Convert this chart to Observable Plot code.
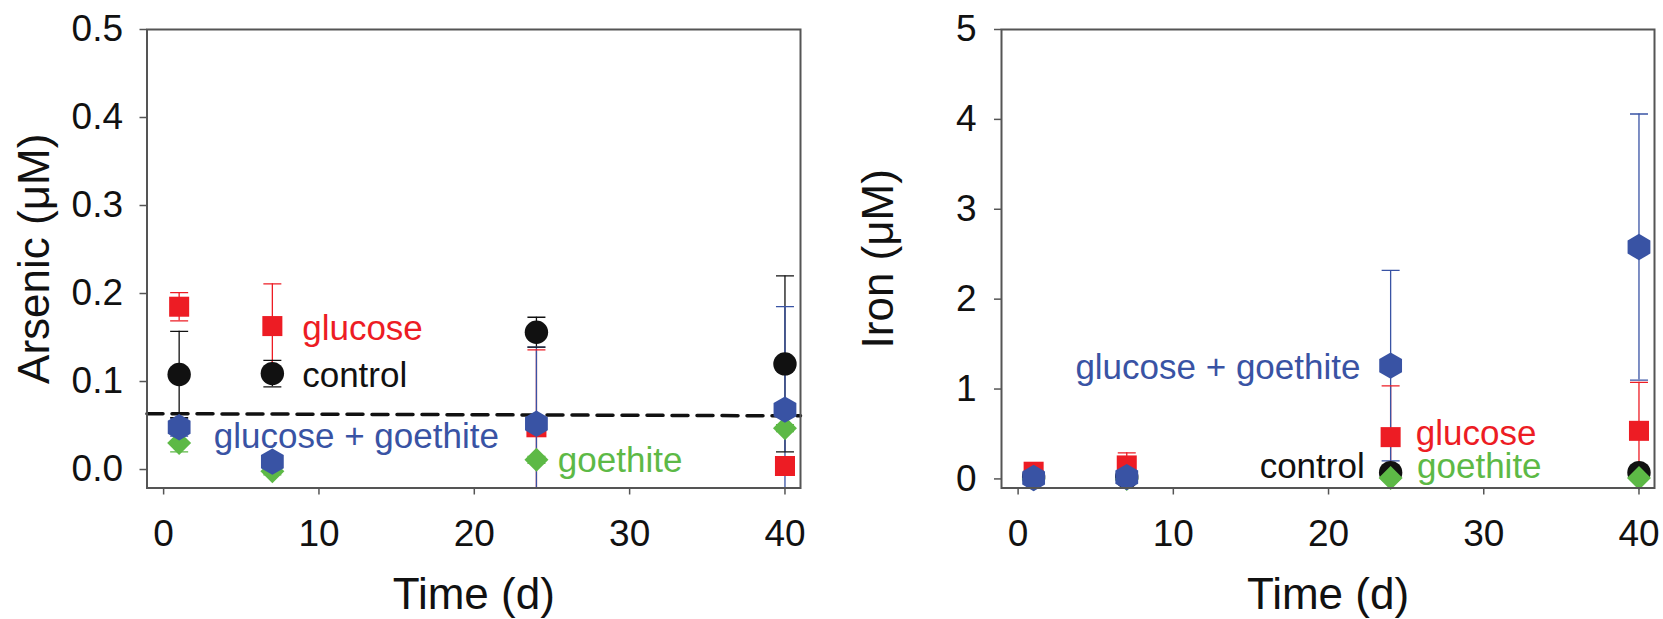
<!DOCTYPE html>
<html><head><meta charset="utf-8">
<script src="https://cdn.jsdelivr.net/npm/d3@7"></script>
<script src="https://cdn.jsdelivr.net/npm/@observablehq/plot@0.6"></script>
<style>
body{margin:0;background:#fff;}
#wrap{position:relative;width:1663px;height:619px;overflow:hidden;}
#left,#right{position:absolute;top:0;}
#left{left:0;} #right{left:840px;}
svg{overflow:visible}
</style></head><body>
<div id="wrap"><div id="left"></div><div id="right"></div></div>
<script>
// ---- data ----
const days = [1, 7, 24, 40];
const seriesNames = ["control", "glucose", "goethite", "glucose + goethite"];
const seriesColors = ["#111111", "#ED1C24", "#5DB946", "#3953A4"];
const seriesSymbols = ["circle", "square", "diamond2", "hexagon"];

// Arsenic (µM)
const arsenicControl = [0.108, 0.109, 0.156, 0.120];
const arsenicControlErr = [0.049, 0.015, 0.017, 0.100];
const arsenicGlucose = [0.185, 0.163, 0.048, 0.004];
const arsenicGlucoseErr = [0.016, 0.048, 0.088, 0.004];
const arsenicGoethite = [0.030, -0.002, 0.011, 0.047];
const arsenicGoethiteErr = [0.010, 0.004, 0.004, 0.004];
const arsenicGG = [0.048, 0.009, 0.052, 0.068];
const arsenicGGErr = [0.010, 0.005, 0.087, 0.117];
const arsenicLimit = [{day: -1.07, value: 0.0635}, {day: 41.0, value: 0.061}];

// Iron (µM)
const ironControl = [0.02, 0.02, 0.07, 0.07];
const ironControlErr = [0.01, 0.01, 0.02, 0.02];
const ironGlucose = [0.08, 0.15, 0.465, 0.535];
const ironGlucoseErr = [0.03, 0.14, 0.57, 0.54];
const ironGoethite = [0.0, 0.0, 0.01, 0.01];
const ironGoethiteErr = [0.01, 0.01, 0.01, 0.01];
const ironGG = [0.01, 0.02, 1.26, 2.58];
const ironGGErr = [0.02, 0.02, 1.06, 1.48];

const arsenicTicks = [0, 0.1, 0.2, 0.3, 0.4, 0.5];
const ironTicks = [0, 1, 2, 3, 4, 5];
const dayTicks = [0, 10, 20, 30, 40];

const arsenicLabels = [
  {text: "glucose", series: "glucose", day: 8.92, value: 0.160, anchor: "start"},
  {text: "control", series: "control", day: 8.92, value: 0.106, anchor: "start"},
  {text: "glucose + goethite", series: "glucose + goethite", day: 3.23, value: 0.0377, anchor: "start"},
  {text: "goethite", series: "goethite", day: 25.38, value: 0.0102, anchor: "start"}
];
const ironLabels = [
  {text: "glucose + goethite", series: "glucose + goethite", day: 3.69, value: 1.24, anchor: "start"},
  {text: "glucose", series: "glucose", day: 25.62, value: 0.50, anchor: "start"},
  {text: "goethite", series: "goethite", day: 25.7, value: 0.131, anchor: "start"},
  {text: "control", series: "control", day: 22.33, value: 0.131, anchor: "end"}
];

// ---- build rows ----
function rows(vals, errs) {
  const out = [];
  seriesNames.forEach((s, i) => days.forEach((d, j) => out.push({series: s, day: d, value: vals[i][j], err: errs[i][j]})));
  return out;
}
const arsenicRows = rows([arsenicControl, arsenicGlucose, arsenicGoethite, arsenicGG],
                         [arsenicControlErr, arsenicGlucoseErr, arsenicGoethiteErr, arsenicGGErr]);
const ironRows = rows([ironControl, ironGlucose, ironGoethite, ironGG],
                      [ironControlErr, ironGlucoseErr, ironGoethiteErr, ironGGErr]);

const FONT = "'Liberation Sans', Arial, Helvetica, sans-serif";
const colorOf = s => seriesColors[seriesNames.indexOf(s)];
const capSymbol = {draw(ctx) { ctx.moveTo(-9, 0); ctx.lineTo(9, 0); }};
const sizes = {"circle": 11.7, "square": 11.3, "diamond2": 10.8, "hexagon": 11.4};

function panel({data, yDomain, yTicks, yFormat, yLabel, labels, limit, width, marginLeft, marginRight, tickPadY, titleX}) {
  const marks = [];
  if (limit) marks.push(Plot.line(limit, {x: "day", y: "value", stroke: "#111", strokeWidth: 3.5, strokeDasharray: "16,9"}));
  // error bars
  marks.push(Plot.ruleX(data, {x: "day", y1: d => d.value - d.err, y2: d => d.value + d.err,
    stroke: d => colorOf(d.series), strokeWidth: 1.3, clip: true}));
  marks.push(Plot.dot(data, {x: "day", y: d => d.value + d.err, symbol: capSymbol, r: 5,
    fill: "none", stroke: d => colorOf(d.series), strokeWidth: 1.3, clip: true}));
  marks.push(Plot.dot(data, {x: "day", y: d => d.value - d.err, symbol: capSymbol, r: 5,
    fill: "none", stroke: d => colorOf(d.series), strokeWidth: 1.3, clip: true}));
  // markers
  seriesNames.forEach((s, i) => {
    marks.push(Plot.dot(data.filter(d => d.series === s), {x: "day", y: "value",
      symbol: seriesSymbols[i], r: sizes[seriesSymbols[i]], fill: seriesColors[i], stroke: "none"}));
  });
  // labels
  for (const anchor of ["start", "end"]) {
    marks.push(Plot.text(labels.filter(d => d.anchor === anchor), {x: "day", y: "value", text: "text",
      fill: d => colorOf(d.series), textAnchor: anchor, lineAnchor: "middle", fontSize: 35, fontFamily: FONT}));
  }
  marks.push(Plot.frame({stroke: "#555", strokeWidth: 2}));
  marks.push(Plot.axisY({ticks: yTicks, tickFormat: yFormat, tickSize: 7, tickPadding: tickPadY,
    fontSize: 37, stroke: "#555", strokeWidth: 1.5, fill: "#111", label: null}));
  marks.push(Plot.axisX({ticks: dayTicks, tickFormat: d3.format("d"), tickSize: 7, tickPadding: 25,
    fontSize: 37, stroke: "#555", strokeWidth: 1.5, fill: "#111", label: null}));
  marks.push(Plot.text([yLabel], {frameAnchor: "left", dx: titleX - marginLeft, rotate: -90,
    textAnchor: "middle", lineAnchor: "middle", fontSize: 44, fontFamily: FONT, fill: "#111"}));
  marks.push(Plot.text(["Time (d)"], {frameAnchor: "bottom", dy: 107, textAnchor: "middle", lineAnchor: "middle",
    fontSize: 44, fontFamily: FONT, fill: "#111"}));
  return Plot.plot({
    width, height: 619, marginLeft, marginRight, marginTop: 29, marginBottom: 131.5,
    style: {fontFamily: FONT, background: "transparent", overflow: "visible"},
    x: {domain: [-1.07, 41.0]},
    y: {domain: yDomain},
    marks
  });
}

const leftPlot = panel({
  data: arsenicRows, yDomain: [-0.021, 0.5], yTicks: arsenicTicks, yFormat: d3.format(".1f"),
  yLabel: "Arsenic (μM)", labels: arsenicLabels, limit: arsenicLimit,
  width: 840, marginLeft: 146.5, marginRight: 40, tickPadY: 17, titleX: 34
});
const rightPlot = panel({
  data: ironRows, yDomain: [-0.101, 5], yTicks: ironTicks, yFormat: d3.format("d"),
  yLabel: "Iron (μM)", labels: ironLabels, limit: null,
  width: 823, marginLeft: 161, marginRight: 9, tickPadY: 18, titleX: 38
});
document.getElementById("left").appendChild(leftPlot);
document.getElementById("right").appendChild(rightPlot);
</script>
</body></html>
